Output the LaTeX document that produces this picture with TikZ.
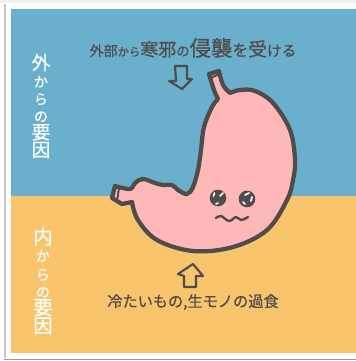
\documentclass[tikz,border=0pt]{standalone}
\usepackage{fontspec}
\setmainfont[FakeBold=0.6]{Noto Sans CJK JP}
\definecolor{skyblue}{HTML}{6AB0CC}
\definecolor{sand}{HTML}{F8C46C}
\definecolor{stomachpink}{HTML}{FFB8B8}
\definecolor{inkgray}{HTML}{504C4C}
\newcommand{\fs}[1]{\fontsize{#1}{#1}\selectfont}
\tikzset{
	stomachline/.style={draw=inkgray, line width=3.2pt, line join=round, line cap=round},
	hollowarrow/.style={draw=inkgray, line width=1.6pt, line join=round},
	eyeball/.style={circle, fill=inkgray, minimum size=12.5pt, inner sep=0pt},
	eyeglint/.style={draw=white, line width=1.3pt, line cap=round},
	darktext/.style={text=inkgray, inner sep=0pt},
	whitetext/.style={text=white, inner sep=0pt, align=center}
}
\begin{document}
\begin{tikzpicture}[x=0.75pt, y=-0.75pt]
	\useasboundingbox (0,0) rectangle (356,361);
	\fill[white] (0,0) rectangle (356,361);
	\fill[black!6] (0,0) rectangle (356,3);
	
	% frame shadow
	\draw[black!22, line width=1.5pt] (5,4) -- (5,358);
	\draw[black!40, line width=1.2pt] (4,359.5) -- (356,359.5);
	
	% two halves of the background
	\fill[skyblue] (11,9) rectangle (356,196);
	\fill[sand] (11,196) rectangle (356,353);
	
	% stomach
	\draw[stomachline, fill=stomachpink]
		plot[smooth, tension=0.6] coordinates {(219,71) (223,85) (230,93)}
		-- plot[smooth, tension=0.6] coordinates {(230,93) (240,90) (255,91) (273,103) (290,130) (295,160) (293,180) (287,200) (267,230) (233,247) (193,251) (157,240) (138,220) (132,202)}
		-- (122,204) -- (112,198) -- (115,186)
		-- plot[smooth, tension=0.6] coordinates {(115,186) (130,189) (135,183) (143,179) (155,183) (163,185) (172,185) (178,190) (187,194) (193,187) (198,170) (201,150) (204,127) (212,107) (218,99)}
		-- plot[smooth, tension=0.6] coordinates {(218,99) (214,90) (209,74)}
		-- cycle;
	\draw[stomachline, line width=1.5pt] (210,78) -- (220,74);
	\draw[stomachline, line width=1.5pt] (119,188) -- (117,201);
	
	% face
	\node[eyeball] (lefteye) at (218,198){};
	\node[eyeball] (righteye) at (247,199){};
	\draw[eyeglint] (214.5,193) -- (213.5,196);
	\draw[eyeglint] (223,193) -- (220,196);
	\draw[eyeglint] (218,203) -- (216,204);
	\draw[eyeglint] (249,193) -- (245,195);
	\draw[eyeglint] (252,197) -- (251,201);
	\draw[eyeglint] (243,202) -- (245,204);
	\draw[stomachline, line width=1.8pt] plot[smooth, tension=0.7] coordinates {(216,218) (221,216) (229,221) (236,217) (241,220) (248,217)};
	
	% arrows
	\draw[hollowarrow] (175,66) -- (187,66) -- (187,79) -- (192,79) -- (182,89) -- (169,81) -- (176,81) -- cycle;
	\draw[hollowarrow] (193,264) -- (203,276) -- (196,276) -- (196,287) -- (184,287) -- (184,276) -- (178,274) -- cycle;
	
	% texts
	\node[darktext] (attack) at (193,48){\fs{10.5}外部\fs{8.5}から\fs{13.5}寒邪\fs{10}の\fs{16}侵襲\fs{12}を\fs{14}受\fs{11}ける};
	\node[darktext] (food) at (193,302){\fs{11.4}冷たいもの,生モノの過食};
	\node[whitetext] (outer) at (41,106){\fs{14}外\\[1pt]\fs{10.5}か\\[1pt]\fs{10.5}ら\\[1pt]\fs{10.5}の\\[1pt]\fs{14}要\\[0pt]\fs{14}因};
	\node[whitetext] (inner) at (43,281){\fs{14.5}内\\[1pt]\fs{10.5}か\\[2pt]\fs{10.5}ら\\[1pt]\fs{10.5}の\\[1pt]\fs{14.5}要\\[0pt]\fs{14.5}因};
\end{tikzpicture}
\end{document}
